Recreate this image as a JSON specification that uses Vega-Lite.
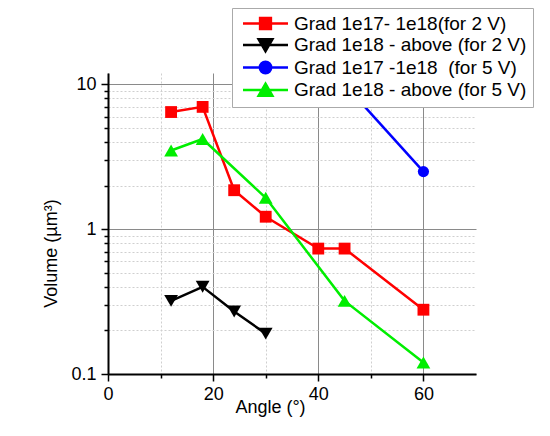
{
  "$schema": "https://vega.github.io/schema/vega-lite/v6.json",
  "width": 368,
  "height": 301,
  "autosize": {"type": "none"},
  "padding": {"left": 108, "top": 73, "right": 74, "bottom": 62},
  "background": "white",
  "config": {"view": {"stroke": null}, "font": "Liberation Sans"},
  "data": {"values": [
    {"series": "Grad 1e17- 1e18(for 2 V)", "angle": 12, "volume": 6.45},
    {"series": "Grad 1e17- 1e18(for 2 V)", "angle": 18, "volume": 7.0},
    {"series": "Grad 1e17- 1e18(for 2 V)", "angle": 24, "volume": 1.86},
    {"series": "Grad 1e17- 1e18(for 2 V)", "angle": 30, "volume": 1.22},
    {"series": "Grad 1e17- 1e18(for 2 V)", "angle": 40, "volume": 0.735},
    {"series": "Grad 1e17- 1e18(for 2 V)", "angle": 45, "volume": 0.735},
    {"series": "Grad 1e17- 1e18(for 2 V)", "angle": 60, "volume": 0.278},
    {"series": "Grad 1e18 - above (for 2 V)", "angle": 12, "volume": 0.32},
    {"series": "Grad 1e18 - above (for 2 V)", "angle": 18, "volume": 0.40},
    {"series": "Grad 1e18 - above (for 2 V)", "angle": 24, "volume": 0.27},
    {"series": "Grad 1e18 - above (for 2 V)", "angle": 30, "volume": 0.19},
    {"series": "Grad 1e17 -1e18 \u00a0(for 5 V)", "angle": 45, "volume": 10},
    {"series": "Grad 1e17 -1e18 \u00a0(for 5 V)", "angle": 60, "volume": 2.5},
    {"series": "Grad 1e18 - above (for 5 V)", "angle": 12, "volume": 3.5},
    {"series": "Grad 1e18 - above (for 5 V)", "angle": 18, "volume": 4.2},
    {"series": "Grad 1e18 - above (for 5 V)", "angle": 30, "volume": 1.65},
    {"series": "Grad 1e18 - above (for 5 V)", "angle": 45, "volume": 0.32},
    {"series": "Grad 1e18 - above (for 5 V)", "angle": 60, "volume": 0.12}
  ]},
  "encoding": {
    "x": {
      "field": "angle", "type": "quantitative",
      "scale": {"domain": [0, 70], "nice": false},
      "axis": {
        "values": [0, 10, 20, 30, 40, 50, 60],
        "labelExpr": "datum.value % 20 == 0 ? datum.label : ''",
        "labelFlush": false,
        "labelFontSize": 18, "labelColor": "black", "labelPadding": 4,
        "title": "Angle (°)", "titleFontSize": 18, "titleFontWeight": "normal", "titleColor": "black",
        "titleX": 162, "titleY": 38, "titleBaseline": "alphabetic", "titleAlign": "center",
        "domainColor": "black", "domainWidth": 2,
        "tickColor": "black", "tickWidth": 1.5,
        "tickSize": {"condition": {"test": "datum.value % 20 == 0", "value": 7}, "value": 4},
        "gridColor": {"condition": {"test": "datum.value % 20 == 0", "value": "#8a8a8a"}, "value": "#cfcfcf"},
        "gridDash": {"condition": {"test": "datum.value % 20 == 0", "value": []}, "value": [2, 2]},
        "gridWidth": 1
      }
    },
    "y": {
      "field": "volume", "type": "quantitative",
      "scale": {"type": "log", "domain": [0.1, 12], "nice": false},
      "axis": {
        "values": [0.1, 0.2, 0.3, 0.4, 0.5, 0.6, 0.7, 0.8, 0.9, 1, 2, 3, 4, 5, 6, 7, 8, 9, 10],
        "format": "~g",
        "labelExpr": "(datum.value == 0.1 || datum.value == 1 || datum.value == 10) ? datum.label : ''",
        "labelFontSize": 18, "labelColor": "black", "labelPadding": 5,
        "title": "Volume (µm³)", "titleFontSize": 18, "titleFontWeight": "normal", "titleColor": "black",
        "titleAngle": -90, "titleX": -52, "titleY": 180, "titleBaseline": "alphabetic", "titleAlign": "center",
        "domainColor": "black", "domainWidth": 2,
        "tickColor": "black", "tickWidth": 1.5,
        "tickSize": {"condition": {"test": "datum.value == 0.1 || datum.value == 1 || datum.value == 10", "value": 7}, "value": 4},
        "gridColor": {"condition": {"test": "datum.value == 0.1 || datum.value == 1 || datum.value == 10", "value": "#8a8a8a"}, "value": "#cfcfcf"},
        "gridDash": {"condition": {"test": "datum.value == 0.1 || datum.value == 1 || datum.value == 10", "value": []}, "value": [2, 2]},
        "gridWidth": 1
      }
    },
    "color": {
      "field": "series", "type": "nominal",
      "scale": {
        "domain": ["Grad 1e17- 1e18(for 2 V)", "Grad 1e18 - above (for 2 V)", "Grad 1e17 -1e18 \u00a0(for 5 V)", "Grad 1e18 - above (for 5 V)"],
        "range": ["#ff0000", "#000000", "#0000ff", "#00ee00"]
      },
      "legend": {
        "orient": "none", "legendX": 124, "legendY": -65,
        "title": null,
        "fillColor": "white", "strokeColor": "#aaaaaa",
        "padding": 6,
        "labelFontSize": 19, "labelFont": "Liberation Sans", "labelColor": "black", "labelLimit": 400,
        "labelExpr": "datum.label + '\u00a0\u00a0'",
        "symbolSize": 144, "symbolStrokeWidth": 2.5,
        "labelOffset": 37, "rowPadding": -0.5,
        "encode": {
          "symbols": {
            "update": {
              "shape": {"signal": "['M-0.75,0H6.75M2.1,-0.9H3.9V0.9H2.1Z','M-0.75,0H6.75M1.85,-0.95H4.15L3,1.05Z','M-0.75,0H6.75M2.05,0A0.95,0.95 0 1,0 3.95,0A0.95,0.95 0 1,0 2.05,0Z','M-0.75,0H6.75M3,-1.05L4.15,0.95H1.85Z'][datum.index]"},
              "fill": {"scale": "color", "field": "value"},
              "stroke": {"scale": "color", "field": "value"},
              "strokeWidth": {"value": 2.5},
              "opacity": {"value": 1}
            }
          }
        }
      }
    }
  },
  "layer": [
    {"mark": {"type": "line", "strokeWidth": 2.5}},
    {
      "transform": [{"filter": "datum.series == 'Grad 1e17- 1e18(for 2 V)'"}],
      "mark": {"type": "point", "filled": true, "opacity": 1, "shape": "square", "size": 140}
    },
    {
      "transform": [{"filter": "datum.series == 'Grad 1e18 - above (for 2 V)'"}],
      "mark": {"type": "point", "filled": true, "opacity": 1, "shape": "triangle-down", "size": 190}
    },
    {
      "transform": [{"filter": "datum.series == 'Grad 1e17 -1e18 \u00a0(for 5 V)'"}],
      "mark": {"type": "point", "filled": true, "opacity": 1, "shape": "circle", "size": 125}
    },
    {
      "transform": [{"filter": "datum.series == 'Grad 1e18 - above (for 5 V)'"}],
      "mark": {"type": "point", "filled": true, "opacity": 1, "shape": "triangle-up", "size": 190}
    }
  ]
}
